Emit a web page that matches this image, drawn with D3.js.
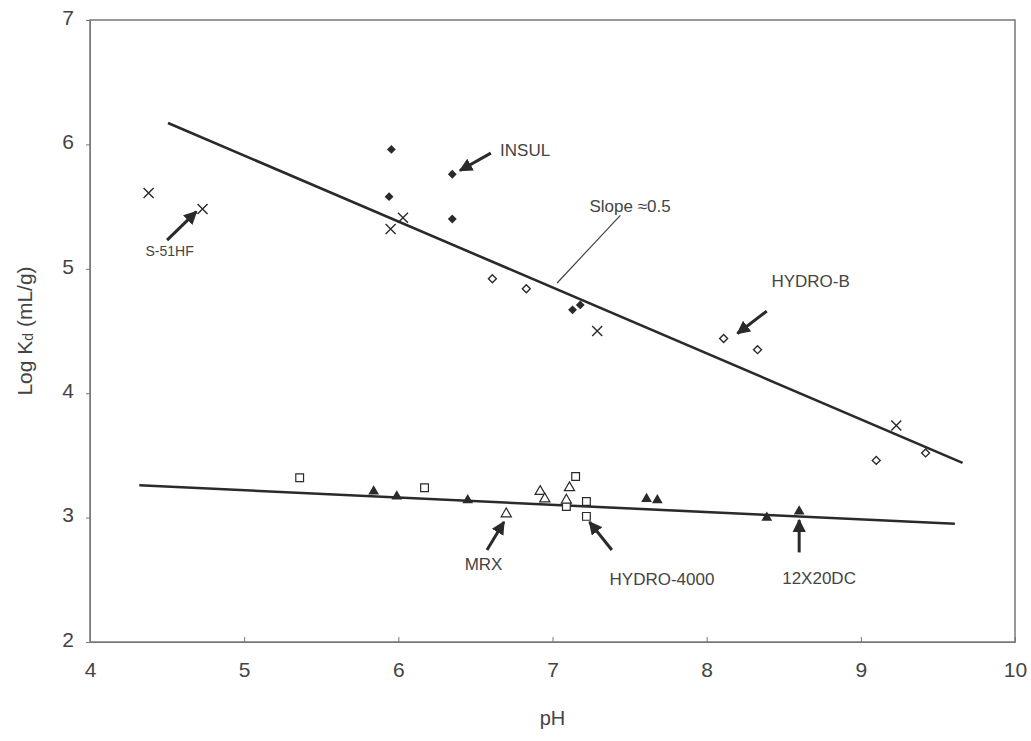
<!DOCTYPE html>
<html>
<head>
<meta charset="utf-8">
<script src="https://cdn.jsdelivr.net/npm/d3@7"></script>
<style>
  body { margin: 0; background: #fff; }
  svg { font-family: "Liberation Sans", Arial, sans-serif; }
  .tick text { fill: #444; font-size: 21px; }
</style>
</head>
<body>
<div id="chart"></div>
<script>
// Data (pH, log Kd)
const s51hf = [[4.38, 5.61], [4.73, 5.48], [5.95, 5.32], [6.03, 5.41], [7.29, 4.50], [9.23, 3.74]];
const insul = [[5.955, 5.96], [5.94, 5.58], [6.35, 5.76], [6.35, 5.40], [7.13, 4.67], [7.18, 4.71]];
const hydroB = [[6.61, 4.92], [6.83, 4.84], [8.11, 4.44], [8.33, 4.35], [9.10, 3.46], [9.42, 3.52]];
const hydro4000 = [[5.36, 3.32], [6.17, 3.24], [7.15, 3.33], [7.09, 3.09], [7.22, 3.13], [7.22, 3.01]];
const mrx = [[6.70, 3.03], [6.92, 3.21], [6.95, 3.15], [7.11, 3.24], [7.09, 3.14]];
const dc12x20 = [[5.84, 3.21], [5.99, 3.17], [6.45, 3.14], [7.61, 3.15], [7.68, 3.14], [8.39, 3.00], [8.60, 3.05]];

// fitted lines
const upperLine = [[4.506, 6.172], [9.66, 3.44]];
const lowerLine = [[4.32, 3.26], [9.61, 2.95]];

const xTicks = [4, 5, 6, 7, 8, 9, 10];
const yTicks = [2, 3, 4, 5, 6, 7];

// labels: text, text anchor point, arrow from, arrow to
const labels = [
  { text: 'INSUL', at: [6.66, 5.91], size: 17, from: [6.60, 5.93], to: [6.40, 5.79] },
  { text: 'S-51HF', at: [4.36, 5.10], size: 14, from: [4.50, 5.23], to: [4.69, 5.46] },
  { text: 'HYDRO-B', at: [8.42, 4.85], size: 17, from: [8.39, 4.66], to: [8.20, 4.48] },
  { text: 'MRX', at: [6.43, 2.58], size: 17, from: [6.575, 2.74], to: [6.685, 2.965] },
  { text: 'HYDRO-4000', at: [7.37, 2.46], size: 17, from: [7.385, 2.74], to: [7.24, 2.965] },
  { text: '12X20DC', at: [8.49, 2.47], size: 17, from: [8.60, 2.72], to: [8.60, 2.98] }
];
const slopeNote = { text: 'Slope \u22480.5', at: [7.24, 5.46], from: [7.03, 4.886], to: [7.44, 5.43] };

const width = 1031;
const height = 741;
const margin = { top: 20, right: 16, bottom: 99, left: 90 };

const svg = d3.select('#chart').append('svg')
  .attr('width', width)
  .attr('height', height);

const x = d3.scaleLinear().domain([4, 10]).range([margin.left, width - margin.right]);
const y = d3.scaleLinear().domain([2, 7]).range([height - margin.bottom, margin.top]);

const ink = '#2a2a2a';

// arrow head
svg.append('defs').append('marker')
  .attr('id', 'head')
  .attr('viewBox', '0 0 10 10')
  .attr('refX', 9).attr('refY', 5)
  .attr('markerWidth', 4.5).attr('markerHeight', 4.5)
  .attr('orient', 'auto')
  .append('path').attr('d', 'M0,0 L10,5 L0,10 z').attr('fill', ink);

// frame
svg.append('rect')
  .attr('x', x(4)).attr('y', y(7))
  .attr('width', x(10) - x(4)).attr('height', y(2) - y(7))
  .attr('fill', 'none').attr('stroke', '#777').attr('stroke-width', 1.5);

// axes
const xAxis = svg.append('g')
  .attr('transform', `translate(0,${y(2)})`)
  .call(d3.axisBottom(x).tickValues(xTicks).tickFormat(d3.format('d'))
    .tickSizeInner(-5).tickSizeOuter(0).tickPadding(20));
xAxis.select('.domain').attr('stroke', '#777');
xAxis.selectAll('.tick line').attr('stroke', '#777');

const yAxis = svg.append('g')
  .attr('transform', `translate(${x(4)},0)`)
  .call(d3.axisLeft(y).tickValues(yTicks).tickFormat(d3.format('d'))
    .tickSizeInner(4).tickSizeOuter(0).tickPadding(12));
yAxis.select('.domain').attr('stroke', '#777');
yAxis.selectAll('.tick line').attr('stroke', '#777');
yAxis.selectAll('.tick text').attr('dy', '0.2em');

// axis titles
svg.append('text')
  .attr('x', x(7)).attr('y', 725)
  .attr('text-anchor', 'middle')
  .attr('fill', '#444').attr('font-size', 20)
  .text('pH');

const yTitle = svg.append('text')
  .attr('transform', `translate(32,${(y(2) + y(7)) / 2}) rotate(-90)`)
  .attr('text-anchor', 'middle')
  .attr('fill', '#444').attr('font-size', 21);
yTitle.append('tspan').text('Log K');
yTitle.append('tspan').attr('font-size', 14).attr('dy', 1).text('d');
yTitle.append('tspan').attr('dy', -1).text(' (mL/g)');

// fit lines
const line = d3.line().x(d => x(d[0])).y(d => y(d[1]));
[upperLine, lowerLine].forEach(l => {
  svg.append('path').attr('d', line(l))
    .attr('fill', 'none').attr('stroke', ink).attr('stroke-width', 2.6);
});

// markers
const pts = (data, cls) => svg.append('g').attr('class', cls)
  .selectAll('path').data(data).join('path')
  .attr('transform', d => `translate(${x(d[0])},${y(d[1])})`);

pts(s51hf, 'cross')
  .attr('d', 'M-5,-5L5,5M-5,5L5,-5')
  .attr('fill', 'none').attr('stroke', ink).attr('stroke-width', 1.4);

pts(insul, 'insul')
  .attr('d', d3.symbol(d3.symbolDiamond2, 50)())
  .attr('fill', ink);

pts(hydroB, 'hydrob')
  .attr('d', d3.symbol(d3.symbolDiamond2, 40)())
  .attr('fill', '#fff').attr('stroke', ink).attr('stroke-width', 1.4);

pts(hydro4000, 'sq')
  .attr('d', d3.symbol(d3.symbolSquare, 60)())
  .attr('fill', '#fff').attr('stroke', ink).attr('stroke-width', 1.2);

pts(mrx, 'tri-open')
  .attr('d', d3.symbol(d3.symbolTriangle, 45)())
  .attr('fill', '#fff').attr('stroke', ink).attr('stroke-width', 1.2);

pts(dc12x20, 'tri')
  .attr('d', d3.symbol(d3.symbolTriangle, 50)())
  .attr('fill', ink);

// annotations
const ann = svg.append('g').attr('class', 'annotations');
labels.forEach(l => {
  ann.append('line')
    .attr('x1', x(l.from[0])).attr('y1', y(l.from[1]))
    .attr('x2', x(l.to[0])).attr('y2', y(l.to[1]))
    .attr('stroke', ink).attr('stroke-width', 3)
    .attr('marker-end', 'url(#head)');
  ann.append('text')
    .attr('x', x(l.at[0])).attr('y', y(l.at[1]))
    .attr('font-size', l.size).attr('fill', '#444')
    .text(l.text);
});

ann.append('line')
  .attr('x1', x(slopeNote.from[0])).attr('y1', y(slopeNote.from[1]))
  .attr('x2', x(slopeNote.to[0])).attr('y2', y(slopeNote.to[1]))
  .attr('stroke', '#444').attr('stroke-width', 1.2);
ann.append('text')
  .attr('x', x(slopeNote.at[0])).attr('y', y(slopeNote.at[1]))
  .attr('font-size', 17).attr('fill', '#444')
  .text(slopeNote.text);
</script>
</body>
</html>
